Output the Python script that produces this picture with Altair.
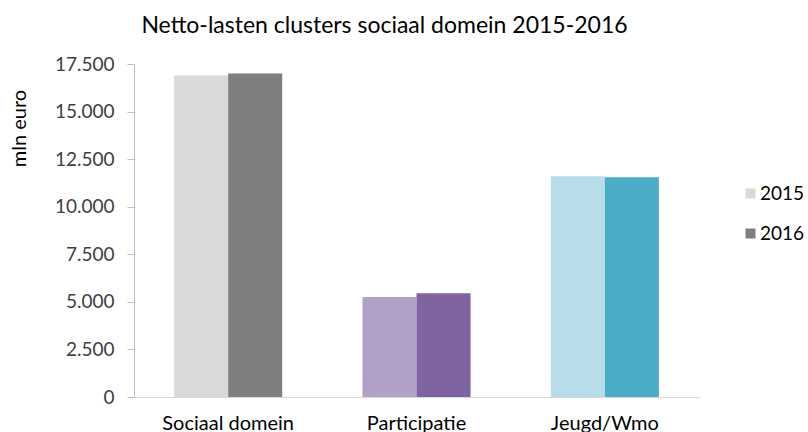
import altair as alt
import pandas as pd

groups = ["Sociaal domein", "Participatie", "Jeugd/Wmo"]
years = ["2015", "2016"]
values_2015 = [16900, 5250, 11600]
values_2016 = [17000, 5450, 11550]
colors_2015 = ["#D9D9D9", "#B2A1C7", "#B7DEE8"]
colors_2016 = ["#7F7F7F", "#8064A2", "#4BACC6"]
legend_colors = ["#D9D9D9", "#7F7F7F"]
y_ticks = [0, 2500, 5000, 7500, 10000, 12500, 15000, 17500]

rows = []
for i, g in enumerate(groups):
    rows.append({"cluster": g, "jaar": "2015", "waarde": values_2015[i], "kleur": colors_2015[i]})
    rows.append({"cluster": g, "jaar": "2016", "waarde": values_2016[i], "kleur": colors_2016[i]})
df = pd.DataFrame(rows)

FONT = "Lato"

x_enc = alt.X("cluster:N", sort=groups,
              scale=alt.Scale(paddingInner=0.426, paddingOuter=0.213),
              axis=alt.Axis(title=None, labelAngle=0, labelFontSize=20, labelColor="#000000",
                            labelPadding=16, ticks=False, domainColor="#D9D9D9",
                            labelFont=FONT, labelBaseline="top"))
y_enc = alt.Y("waarde:Q", scale=alt.Scale(domain=[0, 17500], nice=False),
              axis=alt.Axis(title="mln euro", values=y_ticks, grid=False,
                            labelExpr="replace(format(datum.value, ',d'), ',', '.')",
                            labelFontSize=19, labelColor="#404040", labelFont=FONT,
                            labelPadding=13, tickSize=7, tickColor="#BFBFBF",
                            domainColor="#BFBFBF",
                            titleFont=FONT, titleFontSize=20, titleFontWeight="normal",
                            titleColor="#000000", titleAngle=-90, titleX=-115, titleY=64,
                            titleAlign="center", titleBaseline="middle"))

bars = alt.Chart(df).mark_bar().encode(
    x=x_enc,
    xOffset=alt.XOffset("jaar:N", sort=years, scale=alt.Scale(paddingInner=0, paddingOuter=0)),
    y=y_enc,
    fill=alt.Fill("kleur:N", scale=None),
)

legend_layer = alt.Chart(df).mark_square(opacity=0, size=1).encode(
    x=alt.X("cluster:N", sort=groups),
    y=alt.Y("waarde:Q"),
    color=alt.Color("jaar:N", sort=years,
                    scale=alt.Scale(domain=years, range=legend_colors),
                    legend=alt.Legend(title=None, orient="none", legendX=607, legendY=120,
                                      symbolType="square", symbolSize=100, symbolStrokeWidth=0,
                                      symbolOpacity=1,
                                      labelFontSize=19, labelFont=FONT, labelColor="#000000",
                                      rowPadding=20, labelOffset=0)),
)

chart = alt.layer(bars, legend_layer).properties(
    width=565,
    height=333,
    title=alt.TitleParams("Netto-lasten clusters sociaal domein 2015-2016", fontSize=23,
                          font=FONT, fontWeight="normal", color="#000000",
                          anchor="middle", dx=-32, offset=17),
    autosize=alt.AutoSizeParams(type="none"),
    padding={"left": 134, "top": 64, "right": 109, "bottom": 35},
).configure_view(stroke=None)

chart.save("out.html", embed_options={"renderer": "svg", "actions": False})
